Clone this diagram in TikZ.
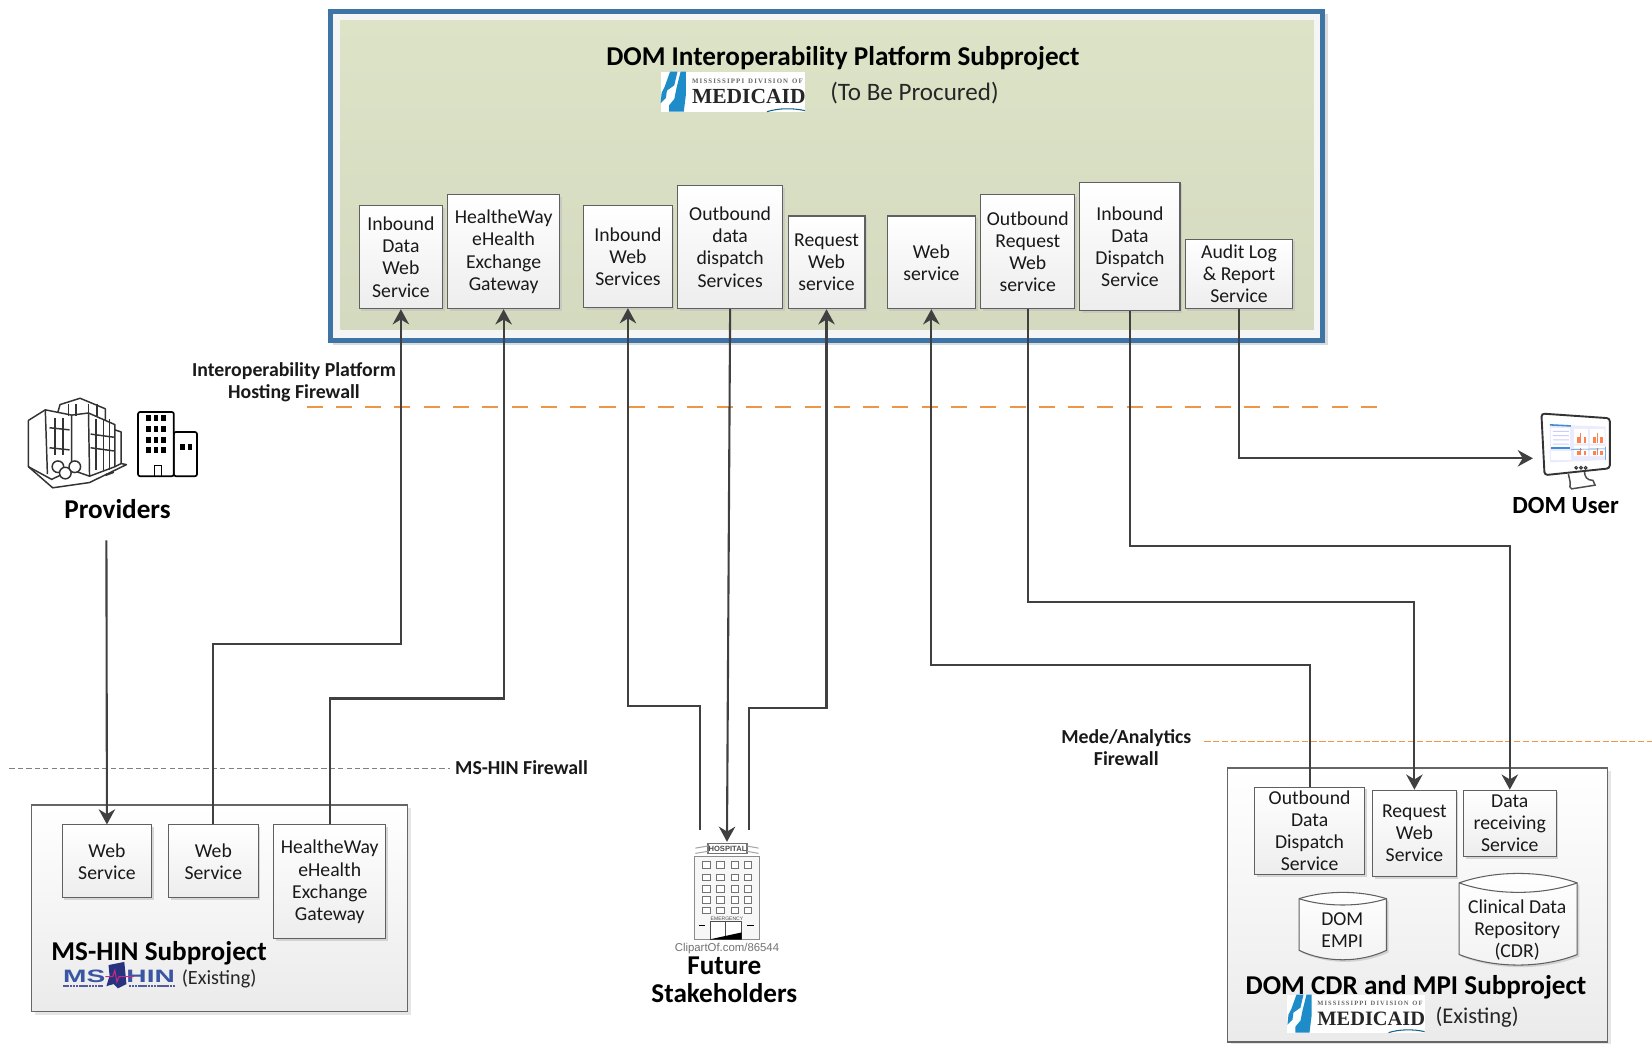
\documentclass[tikz,border=0pt]{standalone}
\usepackage{fontspec}
\setmainfont{Carlito}
\newfontfamily\medfont{Liberation Serif}
\newfontfamily\clipfont{Liberation Sans}
\usetikzlibrary{arrows.meta,shadows,calc}
\definecolor{conn}{HTML}{404040}
\definecolor{panelblue}{HTML}{3E73A6}
\definecolor{panelgreen}{HTML}{DDE3C7}
\definecolor{boxedge}{HTML}{606060}
\definecolor{fwall}{HTML}{EE9648}
\definecolor{medblue}{HTML}{1E8CC8}
\definecolor{hinblue}{HTML}{3A55A4}
\definecolor{hinnavy}{HTML}{28337F}
\tikzset{
 x=0.5pt,y=-0.5pt,
 svc/.style={draw=boxedge,line width=0.5pt,top color=white,bottom color=black!7,inner sep=0pt,align=center,
   font=\fontsize{9.35}{10.5}\selectfont,text=black!90,
   drop shadow={shadow xshift=1pt,shadow yshift=-1pt,fill=black!25,opacity=.6}},
 container/.style={draw=black!60,line width=0.6pt,top color=white,bottom color=black!8,inner sep=0pt,
   drop shadow={shadow xshift=1.5pt,shadow yshift=-1.5pt,fill=black!20,opacity=.5}},
 connector/.style={draw=conn,line width=1pt},
 arrowed/.style={connector,-{Stealth[length=7.2pt,width=7.8pt]}},
 title/.style={font=\fontsize{12.9}{13}\selectfont\bfseries,text=black,inner sep=0pt,align=center},
 sublabel/.style={font=\fontsize{10.7}{12}\selectfont,text=black!85,inner sep=0pt},
 fwlabel/.style={font=\fontsize{9.4}{10.5}\selectfont\bfseries,text=black!90,inner sep=0pt,align=center},
 cyltext/.style={font=\fontsize{9.35}{10.5}\selectfont,text=black!90,inner sep=0pt,align=center},
 ink/.style={draw=black!80,line width=0.7pt,line join=round},
}
% box given by its corners
\newcommand{\svcbox}[6]{%
 \pgfmathsetlengthmacro{\bw}{(#4-#2)*0.5pt}%
 \pgfmathsetlengthmacro{\bh}{(#5-#3)*0.5pt}%
 \pgfmathsetmacro{\bx}{(#2+#4)/2}%
 \pgfmathsetmacro{\by}{(#3+#5)/2}%
 \node[svc,minimum width=\bw,minimum height=\bh] (#1) at (\bx,\by) {#6};}
% cylinder drum: x0,ytop,x1,ysideTop,ysideBottom,ybottom
\newcommand{\drum}[6]{%
 \pgfmathsetmacro{\xa}{#1+0.3*(#3-#1)}%
 \pgfmathsetmacro{\xb}{#1+0.7*(#3-#1)}%
 \pgfmathsetmacro{\ytc}{#4-1.33*(#4-#2)}%
 \pgfmathsetmacro{\ylc}{#4+1.33*(#4-#2)}%
 \pgfmathsetmacro{\ybc}{#5+1.33*(#6-#5)}%
 \fill[black!25,opacity=.6,shift={(2,2)}] (#1,#4) .. controls (\xa,\ytc) and (\xb,\ytc) .. (#3,#4) -- (#3,#5) .. controls (\xb,\ybc) and (\xa,\ybc) .. (#1,#5) -- cycle;
 \path[draw=boxedge,line width=0.5pt,top color=white,bottom color=black!5] (#1,#4) .. controls (\xa,\ytc) and (\xb,\ytc) .. (#3,#4) -- (#3,#5) .. controls (\xb,\ybc) and (\xa,\ybc) .. (#1,#5) -- cycle;
 \draw[boxedge,line width=0.5pt] (#1,#4) .. controls (\xa,\ylc) and (\xb,\ylc) .. (#3,#4);}
% Medicaid logo, 137 x 38
\newcommand{\medlogo}[4]{%
 \begin{scope}[shift={(#2,#3)},scale=#4,every node/.append style={transform shape}]
 \fill[white] (0,0) rectangle (137,38);
 \fill[medblue] (9,0) -- (16,0) -- (13,13) -- (6,18) -- (5,25) -- (0,30) -- (1,20) -- (4,14) -- cycle;
 \fill[medblue] (19,0) -- (24,0) -- (24,22) -- (22,38) -- (8,38) -- (8,32) -- (13,26) -- (15,16) -- cycle;
 \node[inner sep=0pt,anchor=west,font=\medfont\bfseries\fontsize{3.25}{4}\selectfont,text=black!60] (#1a) at (29.5,9) {M\,I\,S\,S\,I\,S\,S\,I\,P\,P\,I\, \,D\,I\,V\,I\,S\,I\,O\,N\, \,O\,F};
 \node[inner sep=0pt,anchor=west,font=\medfont\bfseries\fontsize{10.2}{12}\selectfont,text=black!85] (#1b) at (29.5,24) {MEDICAID};
 \draw[medblue!70!black,line width=0.5pt] (101,38) .. controls (112,34.5) and (126,34.5) .. (137,37);
 \end{scope}}
\begin{document}
\begin{tikzpicture}
\useasboundingbox (0,0) rectangle (1568,990);
\fill[white] (0,0) rectangle (1568,990);

% ---------- top panel
\fill[black!14] (316,13) rectangle (1260,327);
\draw[panelblue,line width=2.35pt,fill=black!4] (313.5,10.5) rectangle (1255.5,323);
\path[top color=panelgreen,bottom color=panelgreen!96!black] (323,19) rectangle (1247,313);
\node[title] (topTitle) at (800,55) {DOM Interoperability Platform Subproject};
\medlogo{logoTop}{627}{68}{1}
\node[sublabel,font=\fontsize{11.9}{13}\selectfont] (topSub) at (868,88) {(To Be Procured)};

\svcbox{ipInData}{341}{195}{420}{293}{Inbound\\Data\\Web\\Service}
\svcbox{ipGate}{425}{185}{531}{293}{HealtheWay\\eHealth\\Exchange\\Gateway}
\svcbox{ipInWeb}{554}{195}{638}{292}{Inbound\\Web\\Services}
\svcbox{ipOutData}{643}{176}{743}{293}{Outbound\\data\\dispatch\\Services}
\svcbox{ipReq}{748}{205}{821}{293}{Request\\Web\\service}
\svcbox{ipWeb}{842}{205}{926}{293}{Web\\service}
\svcbox{ipOutReq}{931}{185}{1020}{293}{Outbound\\Request\\Web\\service}
\svcbox{ipInDisp}{1025}{173}{1120}{295}{Inbound\\Data\\Dispatch\\Service}
\svcbox{ipAudit}{1125}{227}{1227}{293}{Audit Log\\\& Report\\Service}

% ---------- firewalls
\coordinate (fwAa) at (291,386);
\coordinate (fwAb) at (1312,386);
\draw[black!18,line width=0.6pt,dash pattern=on 7.6pt off 6.3pt,shift={(0,2.5)}] (fwAa) -- (fwAb);
\draw[fwall,line width=0.9pt,dash pattern=on 7.6pt off 6.3pt] (fwAa) -- (fwAb);
\coordinate (fwBa) at (9,729);
\coordinate (fwBb) at (427,729);
\draw[black!50,line width=0.5pt,dash pattern=on 2.5pt off 1.5pt] (fwBa) -- (fwBb);
\coordinate (fwCa) at (1143,704);
\coordinate (fwCb) at (1568,704);
\draw[fwall,line width=0.6pt,dash pattern=on 3pt off 1.2pt] (fwCa) -- (fwCb);
\node[fwlabel] (lblA) at (279,363) {Interoperability Platform\\Hosting Firewall};
\node[fwlabel] (lblB) at (495,729) {MS-HIN Firewall};
\node[fwlabel] (lblC) at (1069,709.5) {Mede/Analytics\\Firewall};

% ---------- MS-HIN container
\node[container,minimum width=178.5pt,minimum height=98pt] (msPanel) at (208.5,862) {};
\svcbox{msWebA}{59}{783}{144}{852}{Web\\Service}
\svcbox{msWebB}{160}{783}{245}{852}{Web\\Service}
\svcbox{msGate}{260}{783}{366}{891}{HealtheWay\\eHealth\\Exchange\\Gateway}
\node[title] (msTitle) at (151,905) {MS-HIN Subproject};
\node[sublabel,font=\fontsize{9.6}{11}\selectfont] (msSub) at (208,929) {(Existing)};
% MS-HIN logo
\node[inner sep=0pt,font=\clipfont\bfseries\fontsize{8.5}{9}\selectfont,text=hinblue] (hinMS) at (80,927) {\scalebox{1.57}[1]{MS}};
\fill[hinnavy] (103,916) -- (118,913) -- (120,934) -- (112,938) -- (108,934) -- (101,936) -- (104,926) -- cycle;
\node[inner sep=0pt,font=\clipfont\bfseries\fontsize{8.5}{9}\selectfont,text=hinblue] (hinHIN) at (143,927) {\scalebox{1.57}[1]{HIN}};
\draw[magenta!80!black,line width=0.5pt] (100,927) -- (107,927) -- (109,921) -- (111,932) -- (113,927) -- (127,927);
\draw[hinnavy!80,line width=1pt,dash pattern=on 1.2pt off .3pt] (60,936) -- (98,936);
\draw[hinnavy!80,line width=1pt,dash pattern=on 1.2pt off .3pt] (122,936) -- (166,936);

% ---------- DOM CDR container
\node[container,minimum width=180.5pt,minimum height=130pt] (cdrPanel) at (1345.5,859) {};
\svcbox{cdrOut}{1191}{747}{1295}{830}{Outbound\\Data\\Dispatch\\Service}
\svcbox{cdrReq}{1303}{750}{1382}{832}{Request\\Web\\Service}
\svcbox{cdrRecv}{1389}{750}{1477}{813}{Data\\receiving\\Service}
\drum{1233}{847}{1316}{853}{902}{911}
\node[cyltext] (empi) at (1274,883) {DOM\\EMPI};
\drum{1385}{829}{1497}{838}{906}{916}
\node[cyltext] (cdr) at (1440,883) {Clinical Data\\Repository\\(CDR)};
\node[title] (cdrTitle) at (1344,937) {DOM CDR and MPI Subproject};
\medlogo{logoCdr}{1222}{944}{0.95}
\node[sublabel] (cdrSub) at (1402,965) {(Existing)};

% ---------- providers
\begin{scope}
 \draw[ink] (27,399) -- (43,389) -- (68,394) -- (68,446) -- (49,455) -- (27,443) -- cycle;
 \draw[ink] (43,389) -- (45,450);
 \draw[ink] (55,391) -- (57,384) -- (76,378) -- (100,388) -- (100,399);
 \draw[ink] (68,394) -- (84,392) -- (109,403) -- (109,443) -- (85,452) -- (68,446);
 \draw[ink] (84,392) -- (85,452);
 \draw[ink] (109,408) -- (115,410) -- (115,440) -- (109,443);
 \draw[ink] (115,440) -- (120,441) -- (85,458) -- (50,463) -- (27,443);
 \foreach \yy in {406,425} \draw[ink] (47,\yy) -- (66,\yy+2);
 \foreach \xx in {52,60} \draw[ink] (\xx,397) -- (\xx,432);
 \foreach \xx in {91,98,104} \draw[ink] (\xx,398) -- (\xx,446);
 \foreach \yy in {412,425} \draw[ink] (86,\yy) -- (108,\yy+3);
 \foreach \xx in {65,72,84,92} \draw[ink] (\xx,383) -- (\xx,395);
 \foreach \cx/\cy in {55/443,62/449,71/443} \draw[ink,fill=white] (\cx,\cy) circle (5.5);
 \draw[ink,line width=1pt] (100,451) -- (108,448);
 % icon
 \draw[black,line width=0.8pt,fill=white,rounded corners=1pt] (165,410) rectangle (187,452);
 \draw[black,line width=0.8pt,fill=white,rounded corners=1pt] (131,391) rectangle (165,452);
 \foreach \xx in {141,148,155} \foreach \yy in {397,407.5,417.6,427.5} \fill[black] (\xx-2.2,\yy-2.8) rectangle (\xx+2.2,\yy+2.8);
 \foreach \xx in {173.4,180.4} \fill[black] (\xx-2.2,424-2.8) rectangle (\xx+2.2,424+2.8);
 \draw[black,line width=0.5pt] (146.5,442) rectangle (153.5,452);
\end{scope}
\node[title] (provLabel) at (111.5,483) {Providers};
\coordinate (provOut) at (101,513);

% ---------- hospital
\begin{scope}
 \draw[black!45,line width=0.5pt,fill=black!3] (659,812.5) rectangle (721,891.5);
 \draw[black!55,line width=0.5pt,fill=white] (672,801) rectangle (709,810);
 \draw[black!35,line width=0.5pt] (660,805) -- (672,803) (709,803) -- (720,805) (660,810) -- (672,808) (709,808) -- (720,810);
 \foreach \xx in {670.7,684,697.6,710} \foreach \yy in {821,832.7,843.8,854.2,864.4}
   \draw[black!55,line width=0.5pt,fill=white] (\xx-3.5,\yy-3) rectangle (\xx+3.5,\yy+3);
 \draw[black!70,line width=0.5pt,fill=white] (674,875) rectangle (704,891.5);
 \draw[black!70,line width=0.4pt] (689,875) -- (689,891.5);
 \fill[black] (674,891.5) -- (704,885) -- (704,891.5) -- cycle;
 \draw[black,line width=0.5pt] (663,878) -- (669,878) (709,878) -- (716,878);
 \node[inner sep=0pt,font=\clipfont\bfseries\fontsize{3.6}{4}\selectfont,text=black!70] (hospSign) at (690.5,805.5) {HOSPITAL};
 \node[inner sep=0pt,font=\clipfont\fontsize{2.4}{3}\selectfont,text=black!70] (hospEr) at (690,872.5) {EMERGENCY};
 \node[inner sep=0pt,font=\clipfont\fontsize{5.4}{6}\selectfont,text=black!55] (hospClip) at (690,900) {ClipartOf.com/86544};
\end{scope}
\coordinate (hospUpL) at (664,788);
\coordinate (hospIn) at (690,799);
\coordinate (hospUpR) at (711,788);
\node[title] (futLabel) at (687.5,930) {Future\\Stakeholders};

% ---------- monitor
\begin{scope}
 \draw[black!70,line width=0.7pt,fill=white] (1488.6,450) .. controls (1490,456) and (1491,459) .. (1490,462) -- (1491.7,464) -- (1514,460.5) -- (1512,456) .. controls (1506,456) and (1504,452) .. (1504,448);
 \draw[black!80,line width=0.9pt,fill=white,rounded corners=1.5pt] (1463,392.5) -- (1528,397) -- (1528,444.5) -- (1466,451) -- cycle;
 \fill[white] (1470.5,397) -- (1524,401) -- (1523.7,436.6) -- (1471,439) -- cycle;
 \fill[blue!8] (1471,403) -- (1524,405) -- (1524,436.6) -- (1471,439) -- cycle;
 \fill[cyan!60!blue!80] (1471,402.5) -- (1491,403.5) -- (1491,405) -- (1471,404) -- cycle;
 \fill[white] (1472.5,406) rectangle (1490.5,424);
 \fill[cyan!60!blue!80] (1472.5,424) rectangle (1490.5,426);
 \fill[blue!20] (1474,409) rectangle (1489,410) (1474,413) rectangle (1489,414) (1474,417) rectangle (1489,418) (1474,421) rectangle (1489,422);
 \fill[white] (1494,407) rectangle (1507,421) (1509,407) rectangle (1523,421) (1494,423) rectangle (1507,433) (1509,423) rectangle (1523,433);
 \foreach \xx in {1497,1503,1512,1519} {\fill[red!40!orange!70] (\xx,420) rectangle (\xx+2.5,415); \fill[red!40!orange!70] (\xx,432) rectangle (\xx+2.5,428);}
 \foreach \xx in {1500,1516} {\fill[red!40!orange!70] (\xx,420) rectangle (\xx+1,411); \fill[red!40!orange!70] (\xx,432) rectangle (\xx+1,425);}
 \fill[white] (1472.5,428) rectangle (1491,437);
 \draw[cyan!60!blue!80,line width=0.3pt] (1491,426.5) -- (1524,426) (1523.7,424) -- (1523.7,436.6);
 \draw[black!80,line width=0.5pt] (1496,444) circle (1.3) (1500.6,444) circle (1.3) (1505,444) circle (1.3);
\end{scope}
\coordinate (monitorIn) at (1455,435);
\node[title,font=\fontsize{11.7}{13}\selectfont\bfseries] (domUser) at (1486,480) {DOM User};

% ---------- connectors
\draw[arrowed] (provOut) -- (msWebA.north);
\draw[arrowed] (msWebB.north) -- (msWebB.north |- 0,611) -| (ipInData.south);
\draw[arrowed] (msGate.north) -- (msGate.north |- 0,663) -| (ipGate.south);
\draw[arrowed] (hospUpL) -- (hospUpL |- 0,670) -| (ipInWeb.south);
\draw[arrowed] (ipOutData.south) -- (hospIn);
\draw[arrowed] (hospUpR) -- (hospUpR |- 0,672) -| (ipReq.south);
\draw[arrowed] (cdrOut.north) -- (cdrOut.north |- 0,631) -| (ipWeb.south);
\draw[arrowed] (ipOutReq.south) -- (ipOutReq.south |- 0,571) -| (cdrReq.north);
\draw[arrowed] (ipInDisp.south) -- (ipInDisp.south |- 0,518) -| (cdrRecv.north);
\draw[arrowed] (ipAudit.south) |- (monitorIn);
\end{tikzpicture}
\end{document}
